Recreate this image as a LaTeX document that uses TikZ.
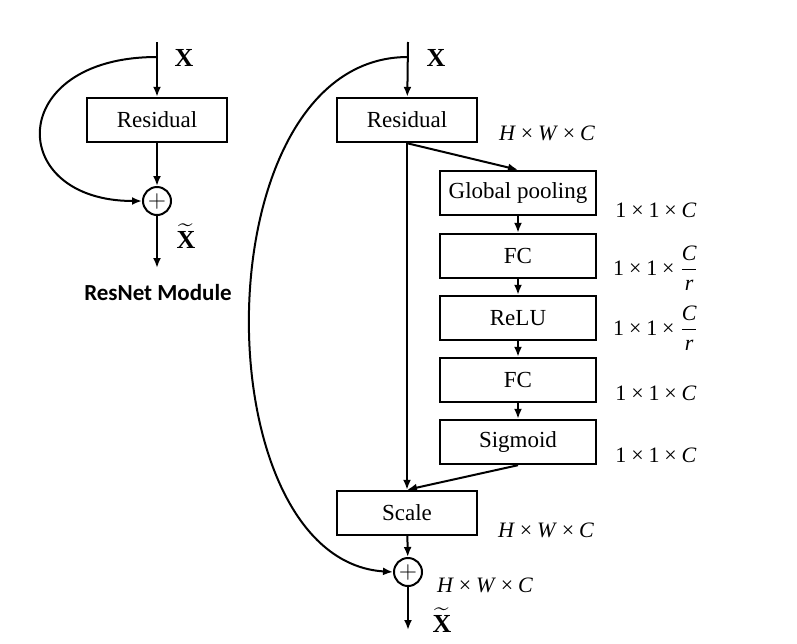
\documentclass[tikz,border=0pt]{standalone}
\usepackage{amsmath,amssymb}
\usepackage{fontspec}
\setmainfont{Liberation Serif}
\newfontfamily\labelfont{Carlito}
\usepackage{tikz}
\usetikzlibrary{arrows.meta, calc, positioning}

% dimension texts in italic serif
\newcommand{\dimx}{\hspace{0.22em}\texttimes\hspace{0.22em}}
\newcommand{\ratio}{$\dfrac{\textit{C}}{\textit{r}}$}

\begin{document}
\begin{tikzpicture}[x=0.5pt, y=-0.5pt,
    every node/.style={align=center},
    block/.style={draw, line width=1.2pt, minimum width=70pt, minimum height=22pt, inner sep=0pt, font=\fontsize{11.5}{13}\selectfont},
    seblock/.style={block, minimum width=78pt},
    sumnode/.style={draw, circle, line width=1pt, minimum size=14pt, inner sep=0pt, font=\fontsize{13}{14}\selectfont},
    dimlabel/.style={font=\fontsize{11}{13}\selectfont},
    varlabel/.style={font=\fontsize{13}{14}\selectfont},
    flow/.style={line width=1pt, -{Latex[length=5pt, width=4pt]}}]
\useasboundingbox (0,0) rectangle (797,643);

% ResNet module
\coordinate (inL) at (157,42);
\coordinate (tapL) at (157,57);
\node[block] (resL) at (157,120) {Residual};
\node[sumnode] (sumL) at (157,201) {$+$};
\coordinate (outL) at (157,268);
\draw[flow] (inL) -- (resL);
\draw[flow] (resL) -- (sumL);
\draw[flow] (sumL) -- (outL);
\draw[flow] (tapL) .. controls (5,57) and (5,201) .. (sumL.west);
\node[varlabel] (xL) at (184,58) {$\mathbf{X}$};
\node[varlabel] (xtL) at (186,236) {$\widetilde{\mathbf{X}}$};
\node[font=\labelfont\bfseries\fontsize{11.5}{14}\selectfont] (capL) at (158,293) {ResNet Module};

% SE-ResNet module
\coordinate (inR) at (408,42);
\coordinate (tapR) at (408,57);
\node[block] (resR) at (407,120) {Residual};
\node[seblock] (pool) at (518,193) {Global pooling};
\node[seblock] (fc1) at (518,256) {FC};
\node[seblock] (relu) at (518,318) {ReLU};
\node[seblock] (fc2) at (518,380) {FC};
\node[seblock] (sig) at (518,442) {Sigmoid};
\node[block] (scale) at (407,513) {Scale};
\node[sumnode] (sumR) at (408,572) {$+$};
\coordinate (outR) at (408,630);

\draw[flow] (inR) -- (resR);
\draw[flow] (resR.south) -- (scale.north);
\draw[flow] (resR.south) -- (pool.north);
\draw[flow] (pool) -- (fc1);
\draw[flow] (fc1) -- (relu);
\draw[flow] (relu) -- (fc2);
\draw[flow] (fc2) -- (sig);
\draw[flow] (sig.south) -- (scale.north);
\draw[flow] (scale) -- (sumR);
\draw[flow] (sumR) -- (outR);
\draw[flow] (tapR) .. controls (200,57) and (200,560) .. (sumR.west);

\node[varlabel] (xR) at (436,58) {$\mathbf{X}$};
\node[varlabel] (xtR) at (442,620) {$\widetilde{\mathbf{X}}$};

\node[dimlabel] (dRes) at (547,133) {\textit{H}\dimx\textit{W}\dimx\textit{C}};
\node[dimlabel] (dPool) at (656,210) {1\dimx1\dimx\textit{C}};
\node[dimlabel] (dFc1) at (656,268) {1\dimx1\dimx\ratio};
\node[dimlabel] (dRelu) at (656,328) {1\dimx1\dimx\ratio};
\node[dimlabel] (dFc2) at (656,393) {1\dimx1\dimx\textit{C}};
\node[dimlabel] (dSig) at (656,455) {1\dimx1\dimx\textit{C}};
\node[dimlabel] (dScale) at (546,530) {\textit{H}\dimx\textit{W}\dimx\textit{C}};
\node[dimlabel] (dSum) at (485,585) {\textit{H}\dimx\textit{W}\dimx\textit{C}};
\end{tikzpicture}
\end{document}
